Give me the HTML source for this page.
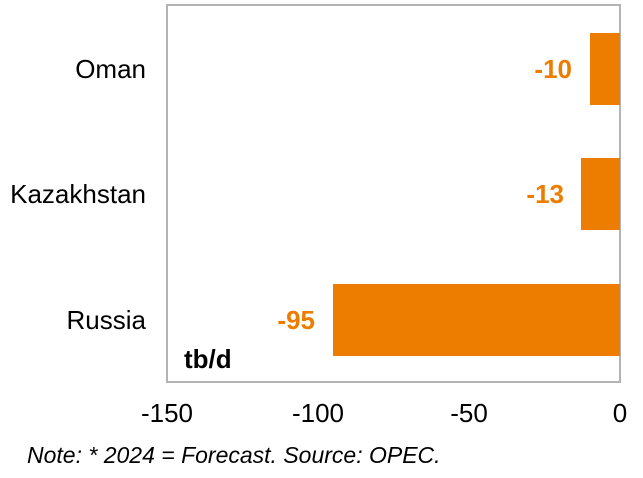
<!DOCTYPE html>
<html><head><style>
body{margin:0;background:#fff;}
svg text{font-family:"Liberation Sans",sans-serif;}
</style></head><body>
<svg width="643" height="473" xmlns="http://www.w3.org/2000/svg">
<rect x="167" y="5" width="453" height="377" fill="#fff" stroke="#b3b3b3" stroke-width="2"/>
<rect x="590" y="33" width="30" height="72" fill="#ed7d00"/>
<rect x="581" y="158" width="39" height="72" fill="#ed7d00"/>
<rect x="333" y="284" width="287" height="72" fill="#ed7d00"/>
<g font-size="26" font-weight="bold" fill="#ed7d00" text-anchor="end">
<text x="572" y="78">-10</text>
<text x="564" y="203">-13</text>
<text x="315" y="329">-95</text>
</g>
<g font-size="26" fill="#000" text-anchor="end">
<text x="146" y="78">Oman</text>
<text x="146" y="203">Kazakhstan</text>
<text x="146" y="329">Russia</text>
</g>
<text x="184" y="368" font-size="26" font-weight="bold">tb/d</text>
<g font-size="26" fill="#000" text-anchor="middle">
<text x="167" y="422">-150</text>
<text x="318" y="422">-100</text>
<text x="469" y="422">-50</text>
<text x="620" y="422">0</text>
</g>
<text x="27" y="463" font-size="23" font-style="italic">Note: * 2024 = Forecast. Source: OPEC.</text>
</svg>
</body></html>
